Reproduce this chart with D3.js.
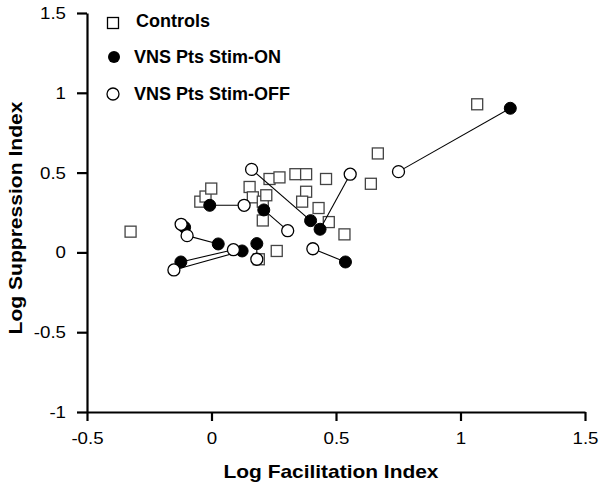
<!DOCTYPE html>
<html>
<head>
<meta charset="utf-8">
<script src="https://cdn.jsdelivr.net/npm/d3@7.9.0/dist/d3.min.js"></script>
<style>
  body { margin: 0; background: #fff; }
  svg { display: block; font-family: 'Liberation Sans', Arial, sans-serif; }
</style>
</head>
<body>
<div id="chart"></div>
<script>
// Controls (open squares)
const controlsX = [-0.325, -0.045, -0.024, -0.001, 0.153, 0.166, 0.206, 0.22, 0.206, 0.233, 0.273, 0.337,
  0.38, 0.38, 0.364, 0.46, 0.43, 0.471, 0.534, 0.262, 0.19, 0.64, 0.668, 1.067];
const controlsY = [0.13, 0.318, 0.35, 0.40, 0.41, 0.345, 0.318, 0.358, 0.2, 0.46, 0.47, 0.49,
  0.49, 0.38, 0.318, 0.46, 0.278, 0.19, 0.113, 0.009, -0.043, 0.43, 0.62, 0.928];

// VNS patients, paired by index: stimulation ON (filled) and OFF (open)
const onX = [1.2, 0.436, 0.398, 0.538, -0.007, 0.21, 0.027, -0.108, -0.123, 0.123, 0.182];
const onY = [0.903, 0.145, 0.199, -0.06, 0.295, 0.266, 0.053, 0.157, -0.06, 0.009, 0.055];
const offX = [0.751, 0.557, 0.161, 0.407, 0.131, 0.306, -0.098, -0.122, 0.088, -0.151, 0.182];
const offY = [0.506, 0.49, 0.52, 0.023, 0.295, 0.136, 0.105, 0.176, 0.017, -0.11, -0.043];

const xTicks = [-0.5, 0, 0.5, 1, 1.5];
const yTicks = [-1, -0.5, 0, 0.5, 1, 1.5];

const legendItems = ['Controls', 'VNS Pts Stim-ON', 'VNS Pts Stim-OFF'];

const width = 600;
const height = 485;

const xScale = d3.scaleLinear().domain([-0.5, 1.5]).range([87, 585]);
const yScale = d3.scaleLinear().domain([-1, 1.5]).range([412, 13]);

const svg = d3.select('#chart')
  .append('svg')
  .attr('width', width)
  .attr('height', height);

const fmt = (d) => String(d);

const xAxis = svg.append('g')
  .attr('transform', `translate(0, ${yScale(-1)})`)
  .call(d3.axisBottom(xScale).tickValues(xTicks).tickFormat(fmt).tickSize(9).tickSizeOuter(0).tickPadding(11));

const yAxis = svg.append('g')
  .attr('transform', `translate(${xScale(-0.5)}, 0)`)
  .call(d3.axisLeft(yScale).tickValues(yTicks).tickFormat(fmt).tickSize(10).tickSizeOuter(0).tickPadding(11));

[xAxis, yAxis].forEach((g) => {
  g.select('.domain').attr('stroke', '#000').attr('stroke-width', 2.2);
  g.selectAll('.tick line').attr('stroke', '#000').attr('stroke-width', 2.2);
  g.selectAll('.tick text')
    .attr('fill', '#000')
    .style('font-size', '17px')
    .style('font-family', "'Liberation Sans', Arial, sans-serif")
    .each(function () {
      // the original type is a bit wider than Liberation Sans
      const w = this.getComputedTextLength();
      d3.select(this).attr('textLength', w * 1.1).attr('lengthAdjust', 'spacingAndGlyphs');
    });
});

svg.append('text')
  .attr('x', 331)
  .attr('y', 478)
  .attr('text-anchor', 'middle')
  .attr('textLength', 215)
  .attr('lengthAdjust', 'spacingAndGlyphs')
  .style('font-size', '18.5px')
  .style('font-weight', 'bold')
  .text('Log Facilitation Index');

svg.append('text')
  .attr('transform', `translate(22, 218) rotate(-90)`)
  .attr('text-anchor', 'middle')
  .attr('textLength', 233)
  .attr('lengthAdjust', 'spacingAndGlyphs')
  .style('font-size', '18.5px')
  .style('font-weight', 'bold')
  .text('Log Suppression Index');

const sq = 11;

// controls
svg.append('g')
  .selectAll('rect')
  .data(d3.zip(controlsX, controlsY))
  .join('rect')
  .attr('x', (d) => xScale(d[0]) - sq / 2)
  .attr('y', (d) => yScale(d[1]) - sq / 2)
  .attr('width', sq)
  .attr('height', sq)
  .attr('fill', '#fff')
  .attr('stroke', '#444')
  .attr('stroke-width', 1.3);

const pairs = d3.range(onX.length).map((i) => ({
  on: [onX[i], onY[i]],
  off: [offX[i], offY[i]],
}));

// connecting lines
svg.append('g')
  .selectAll('line')
  .data(pairs)
  .join('line')
  .attr('x1', (d) => xScale(d.on[0]))
  .attr('y1', (d) => yScale(d.on[1]))
  .attr('x2', (d) => xScale(d.off[0]))
  .attr('y2', (d) => yScale(d.off[1]))
  .attr('stroke', '#000')
  .attr('stroke-width', 1.1);

svg.append('g')
  .selectAll('circle')
  .data(pairs)
  .join('circle')
  .attr('cx', (d) => xScale(d.on[0]))
  .attr('cy', (d) => yScale(d.on[1]))
  .attr('r', 6)
  .attr('fill', '#000')
  .attr('stroke', '#000')
  .attr('stroke-width', 1);

svg.append('g')
  .selectAll('circle')
  .data(pairs)
  .join('circle')
  .attr('cx', (d) => xScale(d.off[0]))
  .attr('cy', (d) => yScale(d.off[1]))
  .attr('r', 6)
  .attr('fill', '#fff')
  .attr('stroke', '#000')
  .attr('stroke-width', 1.3);

// legend
const legendY = [21, 57, 94];
const legend = svg.append('g');
legend.append('rect')
  .attr('x', 113 - 5.5).attr('y', legendY[0] - 5.5 + 2)
  .attr('width', 11).attr('height', 11)
  .attr('fill', '#fff').attr('stroke', '#000').attr('stroke-width', 1.3);
legend.append('circle')
  .attr('cx', 114).attr('cy', legendY[1]).attr('r', 6)
  .attr('fill', '#000');
legend.append('circle')
  .attr('cx', 113).attr('cy', legendY[2]).attr('r', 6)
  .attr('fill', '#fff').attr('stroke', '#000').attr('stroke-width', 1.3);
legend.selectAll('text')
  .data(legendItems)
  .join('text')
  .attr('x', (d, i) => (i === 0 ? 136 : 134))
  .attr('y', (d, i) => legendY[i])
  .attr('dy', '0.35em')
  .style('font-size', '18px')
  .style('font-weight', 'bold')
  .text((d) => d);
</script>
</body>
</html>
